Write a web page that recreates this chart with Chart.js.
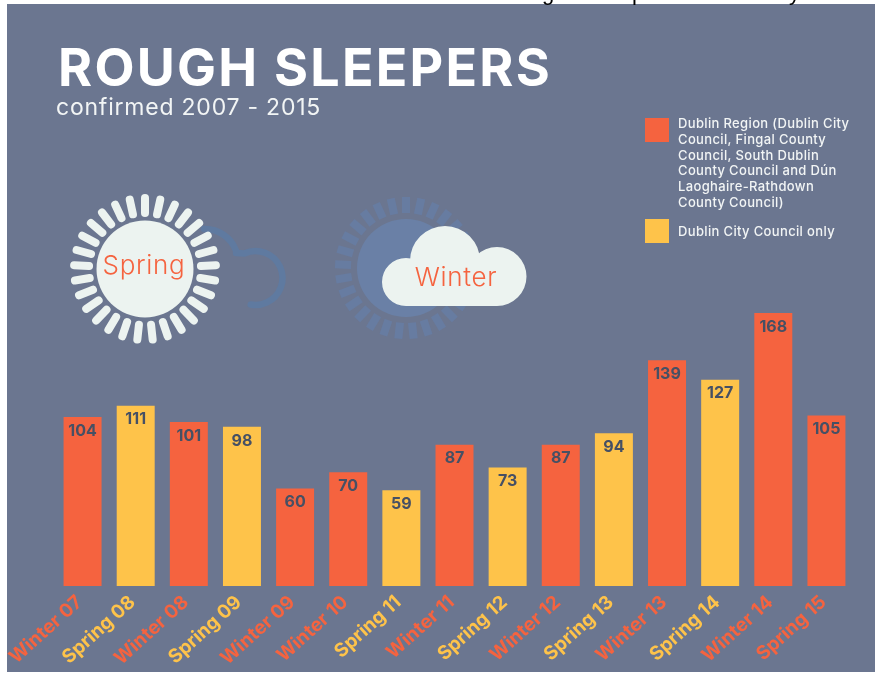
<!DOCTYPE html>
<html>
<head>
<meta charset="utf-8">
<title>Rough sleepers</title>
<script src="https://cdn.jsdelivr.net/npm/chart.js@4/dist/chart.umd.min.js"></script>
<style>
  html, body { margin: 0; padding: 0; background: #fff; }
  #wrap { position: relative; width: 875px; height: 673px; overflow: hidden; font-family: Inter, sans-serif; color: #f2f5f5; }
  #chart { position: absolute; left: 0; top: 0; }
  #title { position: absolute; left: 58px; top: 37px; font-size: 52px; font-weight: 700; color: #fff; line-height: 62px; white-space: nowrap; letter-spacing: 2.25px; }
  #subtitle { position: absolute; left: 56px; top: 92px; font-size: 23px; font-weight: 400; line-height: 30px; white-space: nowrap; letter-spacing: 0.78px; }
  .swatch { position: absolute; left: 645px; width: 24px; height: 24px; }
  .legend-text { position: absolute; left: 678px; font-size: 13px; font-weight: 500; line-height: 15.8px; white-space: nowrap; letter-spacing: 0.35px; }
  .cut { position: absolute; top: -20px; font: 22px/26px "Liberation Sans", sans-serif; color: #000; }
</style>
</head>
<body>
<div id="wrap">
  <canvas id="chart" width="875" height="673"></canvas>
  <!-- line of the page above the figure, cut off in the reference -->
  <span class="cut" style="left:542px">g</span>
  <span class="cut" style="left:632px">p</span>
  <span class="cut" style="left:789px">y</span>
  <div id="title">ROUGH SLEEPERS</div>
  <div id="subtitle">confirmed 2007 - 2015</div>
  <div class="swatch" style="top:118px;background:#f5633f"></div>
  <div class="legend-text" style="top:116px">Dublin Region (Dublin City<br>Council, Fingal County<br>Council, South Dublin<br>County Council and Dún<br>Laoghaire-Rathdown<br>County Council)</div>
  <div class="swatch" style="top:219px;background:#fec34a"></div>
  <div class="legend-text" style="top:224px">Dublin City Council only</div>
</div>
<script>
const labels = ['Winter 07', 'Spring 08', 'Winter 08', 'Spring 09', 'Winter 09', 'Winter 10', 'Spring 11', 'Winter 11',
  'Spring 12', 'Winter 12', 'Spring 13', 'Winter 13', 'Spring 14', 'Winter 14', 'Spring 15'];
const dublinRegion = [104, null, 101, null, 60, 70, null, 87, null, 87, null, 139, null, 168, 105];
const dublinCity = [null, 111, null, 98, null, null, 59, null, 73, null, 94, null, 127, null, null];

const ORANGE = '#f5633f';
const YELLOW = '#fec34a';
const PANEL = '#6b7690';
const WHITE = '#ecf3f0';

const drawSun = (ctx, cx, cy, r, rayIn, rayOut, rays, style) => {
  ctx.save();
  ctx.strokeStyle = style.ray;
  ctx.lineWidth = style.width;
  ctx.lineCap = style.cap;
  for (let i = 0; i < rays; i++) {
    const a = i / rays * Math.PI * 2;
    ctx.beginPath();
    ctx.moveTo(cx + Math.sin(a) * rayIn, cy - Math.cos(a) * rayIn);
    ctx.lineTo(cx + Math.sin(a) * rayOut, cy - Math.cos(a) * rayOut);
    ctx.stroke();
  }
  ctx.fillStyle = style.disc;
  ctx.beginPath();
  ctx.arc(cx, cy, r, 0, Math.PI * 2);
  ctx.fill();
  ctx.restore();
};

const backdrop = {
  id: 'backdrop',
  beforeDraw(chart) {
    const ctx = chart.ctx;
    ctx.save();
    ctx.fillStyle = PANEL;
    ctx.fillRect(7, 4, 868, 668);

    // faint cloud behind the spring sun
    ctx.strokeStyle = '#5f7aa0';
    ctx.lineWidth = 6.5;
    ctx.lineCap = 'round';
    ctx.beginPath();
    ctx.arc(205, 262, 33, -1.6, -0.35);
    ctx.moveTo(236, 253);
    ctx.arc(255.5, 278, 27, -2.0, 1.75);
    ctx.stroke();

    drawSun(ctx, 145, 269, 48.5, 56, 71, 29, { ray: WHITE, disc: WHITE, width: 8, cap: 'round' });
    // faint sun behind the winter cloud
    drawSun(ctx, 406, 268, 49, 55, 71, 29, { ray: '#677ca1', disc: '#6a80a6', width: 8, cap: 'butt' });

    // winter cloud
    ctx.fillStyle = WHITE;
    ctx.beginPath();
    ctx.arc(406, 282, 24, 0, Math.PI * 2);
    ctx.moveTo(480, 261);
    ctx.arc(445, 261, 35, 0, Math.PI * 2);
    ctx.moveTo(526.5, 276.5);
    ctx.arc(497, 276.5, 29.5, 0, Math.PI * 2);
    ctx.fill();
    ctx.fillRect(406, 262, 91, 44);

    ctx.fillStyle = ORANGE;
    ctx.font = '300 26px Inter, sans-serif';
    ctx.letterSpacing = '0.7px';
    ctx.textAlign = 'center';
    ctx.textBaseline = 'middle';
    ctx.fillText('Spring', 144, 266);
    ctx.fillText('Winter', 456, 278);
    ctx.restore();
  }
};

const valueLabels = {
  id: 'valueLabels',
  afterDatasetsDraw(chart) {
    const ctx = chart.ctx;
    ctx.save();
    ctx.fillStyle = '#465064';
    ctx.font = '700 16px Inter, sans-serif';
    ctx.textAlign = 'center';
    ctx.textBaseline = 'middle';
    chart.data.datasets.forEach((ds, d) => {
      chart.getDatasetMeta(d).data.forEach((bar, i) => {
        if (ds.data[i] === null) return;
        ctx.fillText(ds.data[i], bar.x, bar.y + 14);
      });
    });
    ctx.restore();
  }
};

new Chart(document.getElementById('chart'), {
  type: 'bar',
  data: {
    labels: labels,
    datasets: [
      { label: 'Dublin Region', data: dublinRegion, backgroundColor: ORANGE },
      { label: 'Dublin City Council only', data: dublinCity, backgroundColor: YELLOW }
    ]
  },
  options: {
    responsive: false,
    animation: false,
    barPercentage: 0.715,
    categoryPercentage: 1,
    layout: { padding: { left: 56, right: 22, top: 32, bottom: 0 } },
    plugins: { legend: { display: false }, title: { display: false }, tooltip: { enabled: false } },
    scales: {
      x: {
        stacked: true,
        grid: { display: false },
        border: { display: false },
        afterFit: scale => { scale.height = 87; },
        ticks: {
          autoSkip: false,
          minRotation: 42,
          maxRotation: 42,
          padding: -3,
          labelOffset: -3,
          font: { family: 'Inter, sans-serif', size: 19, weight: '700' },
          color: ctx => labels[ctx.index].startsWith('Spring') && ctx.index !== 14 ? YELLOW : ORANGE
        }
      },
      y: { stacked: true, display: false, min: 0, max: 341 }
    }
  },
  plugins: [backdrop, valueLabels]
});
</script>
</body>
</html>
